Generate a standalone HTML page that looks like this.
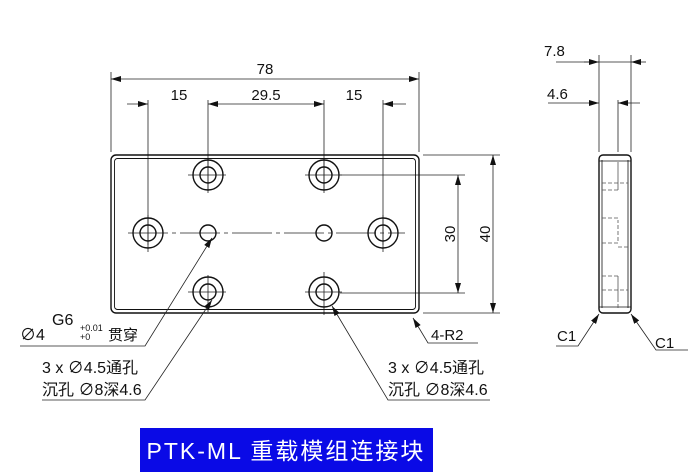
<!DOCTYPE html>
<html><head><meta charset="utf-8"><style>
html,body{margin:0;padding:0;background:#fff;width:700px;height:475px;overflow:hidden}
svg{display:block}
text{font-family:"Liberation Sans","Noto Sans CJK SC",sans-serif;fill:#111}
</style></head><body>
<svg width="700" height="475" viewBox="0 0 700 475">
<defs>
<marker id="a" viewBox="0 0 10 6" refX="10" refY="3" markerWidth="10" markerHeight="6" orient="auto-start-reverse" markerUnits="userSpaceOnUse"><path d="M0,0 L10,3 L0,6z" fill="#111"/></marker>
</defs>
<g stroke="#222" fill="none" stroke-width="0.8">
<line x1="111" y1="72" x2="111" y2="152"/><line x1="419" y1="72" x2="419" y2="152"/>
<line x1="148" y1="100" x2="148" y2="245"/><line x1="208" y1="100" x2="208" y2="190"/>
<line x1="324" y1="100" x2="324" y2="190"/><line x1="383" y1="100" x2="383" y2="245"/>
<line x1="111" y1="79" x2="419" y2="79" marker-start="url(#a)" marker-end="url(#a)"/>
<line x1="127" y1="104" x2="148" y2="104" marker-end="url(#a)"/>
<line x1="208" y1="104" x2="324" y2="104" marker-start="url(#a)" marker-end="url(#a)"/>
<line x1="383" y1="104" x2="406" y2="104" marker-start="url(#a)"/>
<line x1="423" y1="155" x2="500" y2="155"/><line x1="423" y1="313" x2="500" y2="313"/>
<line x1="340" y1="175" x2="465" y2="175"/><line x1="340" y1="293" x2="465" y2="293"/>
<line x1="458" y1="175" x2="458" y2="293" marker-start="url(#a)" marker-end="url(#a)"/>
<line x1="493" y1="155" x2="493" y2="313" marker-start="url(#a)" marker-end="url(#a)"/>
<line x1="128" y1="233" x2="405" y2="233" stroke-dasharray="40 4 4 4"/>
<line x1="188" y1="175" x2="226" y2="175"/><line x1="208" y1="158" x2="208" y2="193"/>
<line x1="305" y1="175" x2="342" y2="175"/><line x1="324" y1="158" x2="324" y2="193"/>
<line x1="188" y1="292" x2="226" y2="292"/><line x1="208" y1="275" x2="208" y2="312"/>
<line x1="305" y1="292" x2="342" y2="292"/><line x1="324" y1="272" x2="324" y2="315"/>
<line x1="148" y1="215" x2="148" y2="252"/><line x1="383" y1="215" x2="383" y2="252"/>
</g>
<g stroke="#111" fill="none" stroke-width="1.4">
<rect x="111" y="155" width="308" height="158" rx="5"/>
<rect x="114.5" y="158.5" width="301" height="151" rx="3" stroke-width="0.9"/>
<circle cx="208" cy="175" r="15"/><circle cx="208" cy="175" r="8"/>
<circle cx="324" cy="175" r="15"/><circle cx="324" cy="175" r="8"/>
<circle cx="148" cy="233" r="15"/><circle cx="148" cy="233" r="8"/>
<circle cx="383" cy="233" r="15"/><circle cx="383" cy="233" r="8"/>
<circle cx="208" cy="292" r="15"/><circle cx="208" cy="292" r="8"/>
<circle cx="324" cy="292" r="15"/><circle cx="324" cy="292" r="8"/>
<circle cx="208" cy="233" r="8"/><circle cx="324" cy="233" r="8"/>
<rect x="599" y="155" width="32" height="158" rx="4"/>
<line x1="602" y1="160" x2="602" y2="308" stroke-width="0.8"/>
<line x1="628" y1="160" x2="628" y2="308" stroke-width="0.8"/>
<line x1="599" y1="161" x2="631" y2="161" stroke-width="0.8"/>
<line x1="599" y1="307" x2="631" y2="307" stroke-width="0.8"/>
</g>
<g stroke="#555" fill="none" stroke-width="0.8" stroke-dasharray="4 2">
<path d="M602 190 H618 V165 M618 190 V160"/>
<path d="M602 218 H618 M602 243 H618 V220 M618 247 H628"/>
<path d="M602 276 H618 V300 M618 308 V276"/>
<line x1="602" y1="183" x2="628" y2="183"/>
<line x1="602" y1="290" x2="628" y2="290"/>
</g>
<g stroke="#222" fill="none" stroke-width="0.8">
<line x1="599" y1="55" x2="599" y2="152"/><line x1="631" y1="55" x2="631" y2="152"/>
<line x1="618" y1="100" x2="618" y2="152"/>
<line x1="556" y1="62" x2="631" y2="62"/>
<line x1="584" y1="62" x2="599" y2="62" marker-end="url(#a)"/>
<line x1="646" y1="62" x2="631" y2="62" marker-end="url(#a)"/>
<line x1="548" y1="103" x2="599" y2="103" marker-end="url(#a)"/>
<line x1="640" y1="103" x2="618" y2="103" marker-end="url(#a)"/>
<polyline points="556,346 578,346 599,314" marker-end="url(#a)"/>
<polyline points="688,350 656,350 631,314" marker-end="url(#a)"/>
<polyline points="20,346 145,346 212,238" marker-end="url(#a)"/>
<polyline points="42,400 145,400 212,300" marker-end="url(#a)"/>
<polyline points="490,400 388,400 332,306" marker-end="url(#a)"/>
<polyline points="478,343 428,343 413,318" marker-end="url(#a)"/>
</g>
<g font-size="15">
<text x="265" y="74" text-anchor="middle">78</text>
<text x="179" y="100" text-anchor="middle">15</text>
<text x="266" y="100" text-anchor="middle">29.5</text>
<text x="354" y="100" text-anchor="middle">15</text>
<text x="0" y="0" transform="translate(455,234) rotate(-90)" text-anchor="middle">30</text>
<text x="0" y="0" transform="translate(490,234) rotate(-90)" text-anchor="middle">40</text>
<text x="544" y="56">7.8</text>
<text x="547" y="99">4.6</text>
<text x="557" y="341">C1</text>
<text x="655" y="348">C1</text>
<text x="431" y="340">4-R2</text>
<text x="20" y="340" font-size="16">∅4</text>
<text x="52" y="325" font-size="16">G6</text>
<text x="80" y="331" font-size="9">+0.01</text>
<text x="80" y="340" font-size="9">+0</text>
<text x="108" y="340" font-size="15">贯穿</text>
<text x="42" y="373" font-size="16">3 x  ∅4.5通孔</text>
<text x="42" y="395" font-size="16">沉孔 ∅8深4.6</text>
<text x="388" y="373" font-size="16">3 x  ∅4.5通孔</text>
<text x="388" y="395" font-size="16">沉孔 ∅8深4.6</text>
</g>
<rect x="140" y="428" width="293" height="44" fill="#0a0ae6"/>
<text x="286" y="459" text-anchor="middle" font-size="23" style="fill:#fff;letter-spacing:2px">PTK-ML 重载模组连接块</text>
</svg>
</body></html>
